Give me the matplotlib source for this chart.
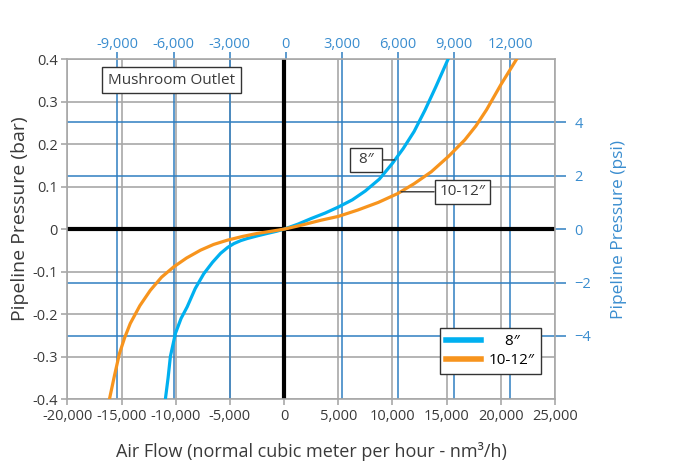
import matplotlib
matplotlib.use("Agg")
import matplotlib.pyplot as plt
from matplotlib.lines import Line2D

plt.rcParams['font.family'] = ['Open Sans', 'DejaVu Sans']

# ---- data ----
flow_8 = [-10950, -10700, -10490, -10030, -9500, -8940, -8200, -7410, -6600, -5860,
          -5200, -4630, -4000, -3390, -2500, -1540, -700, 0,
          1300, 2500, 3800, 5000, 6300, 7500, 8800, 10000, 11000, 12000, 13000, 14000, 15130]
pres_8 = [-0.40, -0.35, -0.30, -0.246, -0.21, -0.183, -0.14, -0.105, -0.078, -0.057,
          -0.043, -0.034, -0.027, -0.022, -0.016, -0.010, -0.005, 0.0,
          0.012, 0.025, 0.038, 0.052, 0.069, 0.090, 0.118, 0.155, 0.19, 0.23, 0.28, 0.335, 0.40]

flow_10 = [-16110, -15650, -15190, -14700, -14190, -13300, -12340, -11300, -10190, -9000,
           -7710, -6500, -5240, -3800, -2460, -1200, 0,
           1700, 3400, 5000, 6800, 8700, 10500, 12000, 13580, 15200, 16670, 17700, 18680,
           20000, 21450]
pres_10 = [-0.40, -0.345, -0.293, -0.255, -0.222, -0.18, -0.144, -0.113, -0.089, -0.068,
           -0.0495, -0.036, -0.026, -0.017, -0.010, -0.005, 0.0,
           0.010, 0.021, 0.030, 0.045, 0.063, 0.084, 0.107, 0.135, 0.172, 0.210, 0.243, 0.281,
           0.34, 0.40]

x_ticks = [-20000, -15000, -10000, -5000, 0, 5000, 10000, 15000, 20000, 25000]
y_ticks = [-0.4, -0.3, -0.2, -0.1, 0.0, 0.1, 0.2, 0.3, 0.4]
y_labels = ['-0.4', '-0.3', '-0.2', '-0.1', '0', '0.1', '0.2', '0.3', '0.4']
scfm_ticks = [-9000, -6000, -3000, 0, 3000, 6000, 9000, 12000]
psi_ticks = [-4, -2, 0, 2, 4]

NM3H_PER_SCFM = 1.727
SCFM_OFFSET = 170
PSI_PER_BAR = 15.9

series_labels = ['    8\u2033', '10-12\u2033']

# ---- styles ----
GRID_GRAY = '#a8a8a8'
GRID_BLUE = '#2f7fc1'
TEXT_BLUE = '#3a8dcf'
TEXT_DARK = '#3a3a3a'
C8 = '#00b0f0'
C10 = '#f7941d'

fig = plt.figure(figsize=(6.89, 4.68), dpi=100)
ax = fig.add_axes([0.0977, 0.1474, 0.7078, 0.7259])
ax.set_xlim(-20000, 25000)
ax.set_ylim(-0.4, 0.4)

def s2n(s):
    return s * NM3H_PER_SCFM + SCFM_OFFSET

def n2s(n):
    return (n - SCFM_OFFSET) / NM3H_PER_SCFM

for x in x_ticks:
    ax.axvline(x, color=GRID_GRAY, lw=1.2, zorder=1)
for y in y_ticks:
    ax.axhline(y, color=GRID_GRAY, lw=1.2, zorder=1)
for s in scfm_ticks:
    if s != 0:
        ax.axvline(s2n(s), color=GRID_BLUE, lw=1.1, zorder=1.5)
for p in psi_ticks:
    if p != 0:
        ax.axhline(p / PSI_PER_BAR, color=GRID_BLUE, lw=1.1, zorder=1.5)
ax.axvline(0, color='black', lw=3.0, zorder=2)
ax.axhline(0, color='black', lw=3.0, zorder=2)

l8, = ax.plot(flow_8, pres_8, color=C8, lw=2.3, zorder=3, solid_joinstyle='round')
l10, = ax.plot(flow_10, pres_10, color=C10, lw=2.3, zorder=3, solid_joinstyle='round')

for sp in ax.spines.values():
    sp.set_color(GRID_GRAY)
    sp.set_linewidth(1.2)

ax.set_xticks(x_ticks)
ax.set_xticklabels([f"{v:,}" for v in x_ticks])
ax.set_yticks(y_ticks)
ax.set_yticklabels(y_labels)
ax.tick_params(axis='both', color=GRID_GRAY, labelcolor=TEXT_DARK, length=4,
               width=1.2, labelsize=10.5, pad=3)

ax.set_xlabel('Air Flow (normal cubic meter per hour - nm\u00b3/h)', fontsize=13,
              color=TEXT_DARK, labelpad=13)
ax.set_ylabel('Pipeline Pressure (bar)', fontsize=14, color=TEXT_DARK)
ax.yaxis.set_label_coords(-0.079, 0.53)

# top axis (scfm)
secx = ax.secondary_xaxis('top', functions=(n2s, s2n))
secx.set_xticks(scfm_ticks)
secx.set_xticklabels([f"{v:,}" for v in scfm_ticks])
secx.tick_params(color=GRID_BLUE, labelcolor=TEXT_BLUE, length=5, width=1.1,
                 labelsize=10.5, pad=0)
secx.spines['top'].set_visible(False)

# right axis (psi)
secy = ax.secondary_yaxis('right', functions=(lambda b: b * PSI_PER_BAR,
                                              lambda p: p / PSI_PER_BAR))
secy.set_yticks(psi_ticks)
secy.tick_params(color=GRID_BLUE, labelcolor=TEXT_BLUE, length=8, width=1.1,
                 labelsize=10.5, pad=6)
secy.spines['right'].set_visible(False)
secy.set_ylabel('Pipeline Pressure (psi)', fontsize=12.5, color=TEXT_BLUE, labelpad=14)

ax.text(-10400, 0.351, 'Mushroom Outlet', ha='center', va='center', fontsize=11,
        color=TEXT_DARK,
        bbox=dict(boxstyle='square,pad=0.38', fc='white', ec='#333333', lw=1),
        zorder=5)
ax.annotate(' 8\u2033 ', xy=(10190, 0.163), xytext=(7565, 0.163), ha='center', va='center',
            fontsize=11, color=TEXT_DARK,
            bbox=dict(boxstyle='square,pad=0.3', fc='white', ec='#333333', lw=1),
            arrowprops=dict(arrowstyle='-', color='#333333', lw=1, shrinkA=0, shrinkB=0),
            zorder=5)
ax.annotate('10-12\u2033', xy=(10800, 0.088), xytext=(16435, 0.088), ha='center', va='center',
            fontsize=11, color=TEXT_DARK,
            bbox=dict(boxstyle='square,pad=0.3', fc='white', ec='#333333', lw=1),
            arrowprops=dict(arrowstyle='-', color='#333333', lw=1, shrinkA=0, shrinkB=0),
            zorder=5)

handles = [Line2D([], [], color=C8, lw=4), Line2D([], [], color=C10, lw=4)]
leg = ax.legend(handles, series_labels, loc='upper left',
                bbox_to_anchor=(440 / 689, 1 - 328.3 / 468), bbox_transform=fig.transFigure,
                borderaxespad=0, fancybox=False, framealpha=1, edgecolor='#333333',
                fontsize=11, handlelength=2.3, handletextpad=0.5, borderpad=0.4,
                labelspacing=0.25)
leg.get_frame().set_linewidth(1)
leg.set_zorder(6)

fig.savefig('out.png', dpi=100)
